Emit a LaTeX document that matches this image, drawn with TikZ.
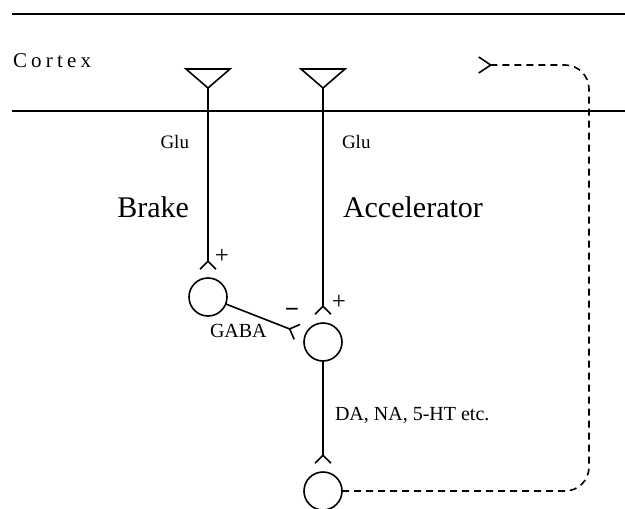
\documentclass[tikz,border=0pt]{standalone}
\usepackage{fontspec}
\setmainfont{Liberation Serif}
\newfontfamily\spacedfont[LetterSpace=20]{Liberation Serif}
\usepackage{tikz}
\usetikzlibrary{arrows.meta,positioning}

\begin{document}
\begin{tikzpicture}[x=1pt,y=-1pt,
	  every node/.style={inner sep=0pt,outer sep=0pt,text=black},
	  layer/.style={line width=1.8pt},
	  terminal/.style={line width=1.6pt,line join=miter},
	  cell/.style={circle,draw,line width=1.6pt,minimum size=38pt},
	  synapse/.style={line width=1.6pt,shorten >=8pt,
	    -{Straight Barb[reversed,length=8pt,width=16pt,line width=1.6pt]}},
	  project/.style={line width=1.6pt,dash pattern=on 7pt off 5pt,rounded corners=24pt,
	    -{Straight Barb[reversed,length=12pt,width=16pt,line width=1.6pt]}},
	  big/.style={font=\fontsize{30}{34}\selectfont},
	  small/.style={font=\fontsize{19}{22}\selectfont},
	  label/.style={font=\fontsize{20}{23}\selectfont},
	  sign/.style={font=\fontsize{25}{27}\selectfont}]

	  \useasboundingbox (0,0) rectangle (625,509);

	  % Cortex layer
	  \draw[layer] (12,14) -- (625,14);
	  \draw[layer] (12,111) -- (625,111);
	  \node[anchor=base west,font=\spacedfont\fontsize{21}{24}\selectfont] (cortex) at (13,67) {Cortex};

	  % Pyramidal terminals
	  \coordinate (glua) at (208,88);
	  \coordinate (glub) at (323,88);
	  \draw[terminal] (glua) -- ++(-22,-19) -- ++(44,0) -- cycle;
	  \draw[terminal] (glub) -- ++(-22,-19) -- ++(44,0) -- cycle;

	  % Cells
	  \node[cell] (brake) at (208,297) {};
	  \node[cell] (accel) at (323,342) {};
	  \node[cell] (mono) at (323,491) {};
	  \coordinate (bend) at (589,65);
	  \coordinate (ctx) at (478,65);

	  \draw[synapse] (glua) -- (brake);
	  \draw[synapse] (glub) -- (accel);
	  \draw[synapse] (brake) -- (accel);
	  \draw[synapse] (accel) -- (mono);
	  \draw[project] (mono.east) -| (bend) -- (ctx);

	  % Labels
	  \node[small,anchor=base east] (glul) at (189,148) {Glu};
	  \node[small,anchor=base west] (glur) at (342,148) {Glu};
	  \node[big,anchor=base east] (brakel) at (189,217) {Brake};
	  \node[big,anchor=base west] (accell) at (343,217) {Accelerator};
	  \node[sign] (plusa) at (222,256) {+};
	  \node[sign] (plusb) at (339,302) {+};
	  \node[sign] (minus) at (292,313) {\bfseries −};
	  \node[label,anchor=base west] (gaba) at (210,337) {GABA};
	  \node[label,anchor=base west] (trans) at (335,420) {DA, NA, 5-HT etc.};

\end{tikzpicture}
\end{document}
